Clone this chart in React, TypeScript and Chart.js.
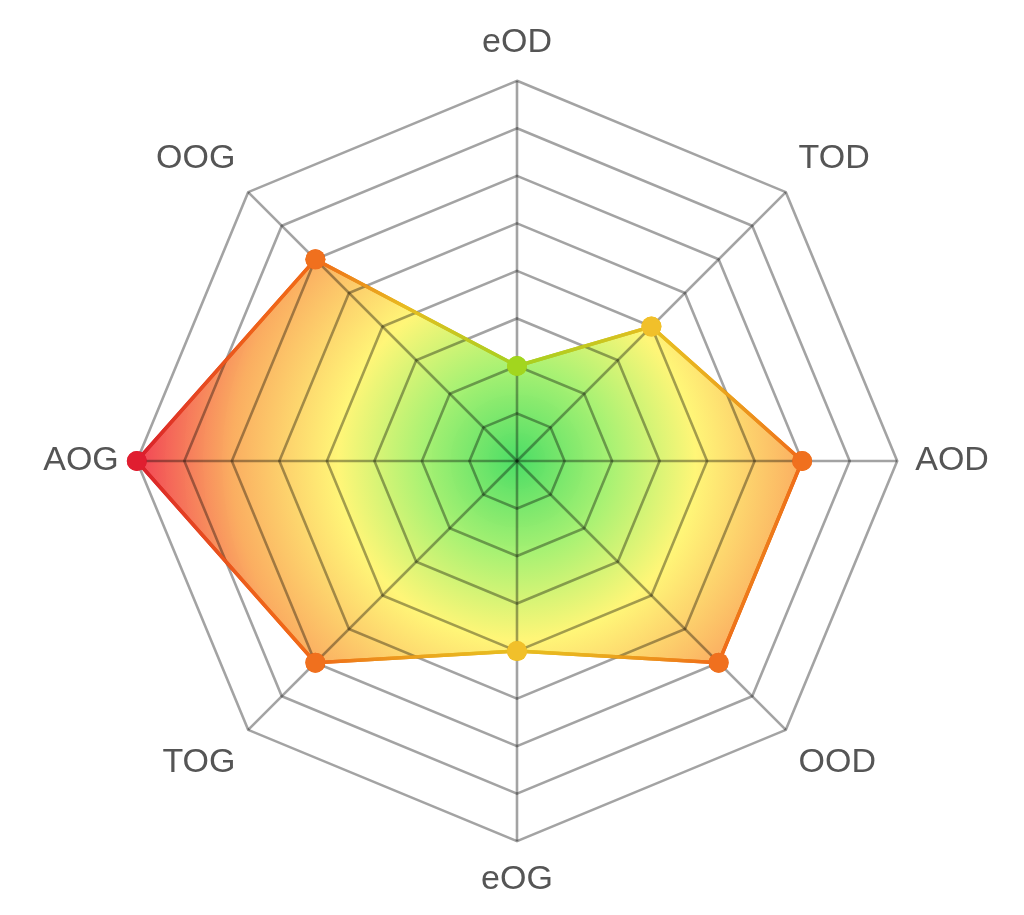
import { Chart, registerables } from 'chart.js';
import { useRef, useEffect } from 'react';

Chart.register(...registerables);

const axisLabels = ['eOD', 'TOD', 'AOD', 'OOD', 'eOG', 'TOG', 'AOG', 'OOG'];
const scores = [2, 4, 6, 6, 4, 6, 8, 6];
const scaleMax = 8;

const pointColors: Record<number, string> = {
	2: '#a2d61e',
	4: '#f1c02a',
	6: '#f0701e',
	8: '#e01e30',
};

const fillStops: [number, string][] = [
	[0, 'rgba(60, 218, 88, 0.92)'],
	[0.25, 'rgba(160, 240, 100, 0.9)'],
	[0.47, 'rgba(255, 245, 105, 0.9)'],
	[0.75, 'rgba(250, 165, 80, 0.9)'],
	[1, 'rgba(240, 50, 70, 0.92)'],
];

const borderStops: [number, string][] = [
	[0, '#5cb830'],
	[0.25, '#a8d020'],
	[0.5, '#e8bc20'],
	[0.75, '#f06818'],
	[1, '#d81c2c'],
];

const radial = (chart: any, stops: [number, string][]) => {
	const scale = chart.scales?.r;
	if (!chart.chartArea || !scale) return stops[2][1];
	const g = chart.ctx.createRadialGradient(
		scale.xCenter, scale.yCenter, 0,
		scale.xCenter, scale.yCenter, scale.drawingArea
	);
	stops.forEach(([at, c]) => g.addColorStop(at, c));
	return g;
};

// the grid is drawn over the fill; put the outline and points back on top
const outlineOnTop = {
	id: 'outlineOnTop',
	afterDraw(chart: any) {
		const meta = chart.getDatasetMeta(0);
		meta.dataset.draw(chart.ctx, chart.chartArea);
		meta.data.forEach((p: any) => p.draw(chart.ctx, chart.chartArea));
	},
};

export default function App() {
	const chartRef = useRef<HTMLCanvasElement>(null);

	useEffect(() => {
		const ctx = chartRef.current!.getContext('2d')!;

		const chartInstance = new Chart(ctx, {
			type: 'radar',
			data: {
				labels: axisLabels,
				datasets: [
					{
						data: scores,
						backgroundColor: (c: any) => radial(c.chart, fillStops),
						borderColor: (c: any) => radial(c.chart, borderStops),
						borderWidth: 3.5,
						fill: true,
						pointRadius: 10,
						pointHoverRadius: 10,
						pointBorderWidth: 0,
						pointBackgroundColor: scores.map((v) => pointColors[v]),
					},
				],
			},
			options: {
				animation: false,
				responsive: true,
				maintainAspectRatio: false,
				layout: { padding: { left: 10, right: 0, top: 22, bottom: 14 } },
				plugins: { legend: { display: false }, tooltip: { enabled: false } },
				scales: {
					r: {
						z: 1,
						min: 0,
						max: scaleMax,
						ticks: { display: false, stepSize: 1 },
						grid: { z: 1, color: 'rgba(0,0,0,0.36)', lineWidth: 2.6 },
						angleLines: { color: 'rgba(0,0,0,0.36)', lineWidth: 2.6 },
						pointLabels: {
							color: '#555',
							padding: 18,
							font: { family: '"Liberation Sans", Arial, sans-serif', size: 34 },
						},
					},
				},
			},
			plugins: [outlineOnTop],
		});

		return () => {
			chartInstance.destroy();
		};
	}, []);

	return (
		<div style={{ position: 'absolute', left: 0, top: 0, width: 1024, height: 915, background: '#fff' }}>
			<canvas ref={chartRef} />
		</div>
	);
}
